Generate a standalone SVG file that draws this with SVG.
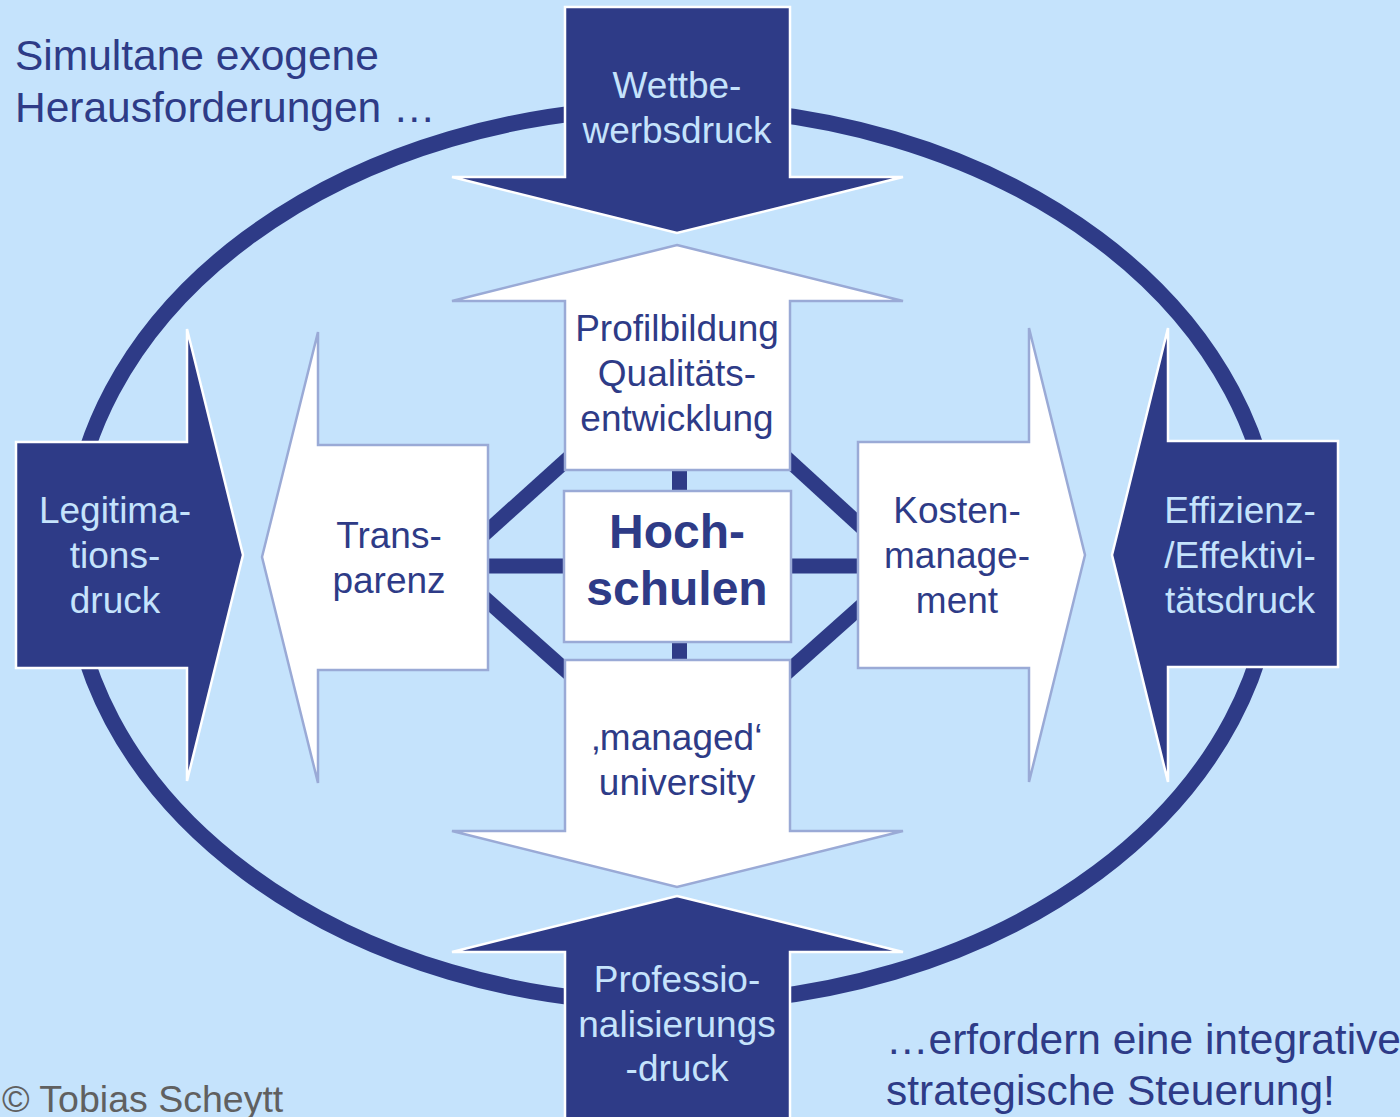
<svg xmlns="http://www.w3.org/2000/svg" width="1400" height="1117" viewBox="0 0 1400 1117">
<style>
.dark{fill:#2e3b87;stroke:#ffffff;stroke-width:2.5;stroke-linejoin:miter}
.white{fill:#ffffff;stroke:#9aaad6;stroke-width:2.5;stroke-linejoin:miter}
.t{font-family:"Liberation Sans",Arial,sans-serif;font-size:37px;text-anchor:middle}
.tl{fill:#c5e3fc}
.td{fill:#2e3b87}
.big{font-family:"Liberation Sans",Arial,sans-serif;font-size:42.5px;fill:#2e3b87}
.conn{stroke:#2e3b87;stroke-width:15;fill:none;stroke-linecap:butt}
</style>
<rect x="0" y="0" width="1400" height="1117" fill="#c5e3fc"/>
<ellipse cx="672" cy="555.5" rx="602" ry="448" fill="none" stroke="#2e3b87" stroke-width="16"/>

<g id="connectors">
<line class="conn" x1="679.5" y1="462" x2="679.5" y2="668"/>
<line class="conn" x1="480" y1="566" x2="866" y2="566"/>
<line class="conn" x1="480" y1="538" x2="572" y2="455"/>
<line class="conn" x1="480" y1="594" x2="572" y2="676"/>
<line class="conn" x1="783" y1="455" x2="866" y2="531"/>
<line class="conn" x1="783" y1="676" x2="866" y2="602"/>
</g>

<g id="wettbewerbsdruck">
<path class="dark" d="M565,7 H790 V177 H903 L677,233 L452,177 H565 Z"/>
<text class="t tl" x="677" y="98">Wettbe-</text>
<text class="t tl" x="677" y="143">werbsdruck</text>
</g>

<g id="professionalisierungsdruck">
<path class="dark" d="M677,896 L903,952 H790 V1130 H565 V952 H452 Z"/>
<text class="t tl" x="677" y="992">Professio-</text>
<text class="t tl" x="677" y="1037">nalisierungs</text>
<text class="t tl" x="677" y="1081">-druck</text>
</g>

<g id="legitimationsdruck">
<path class="dark" d="M16,442 H187 V329 L243,555 L187,781 V668 H16 Z"/>
<text class="t tl" x="115" y="523">Legitima-</text>
<text class="t tl" x="115" y="568">tions-</text>
<text class="t tl" x="115" y="613">druck</text>
</g>

<g id="effizienzdruck">
<path class="dark" d="M1338,441 H1168 V328 L1112,555 L1168,782 V667 H1338 Z"/>
<text class="t tl" x="1240" y="523">Effizienz-</text>
<text class="t tl" x="1240" y="568">/Effektivi-</text>
<text class="t tl" x="1240" y="613">tätsdruck</text>
</g>

<g id="profilbildung">
<path class="white" d="M677,245 L903,301 H790 V470 H565 V301 H452 Z"/>
<text class="t td" x="677" y="341">Profilbildung</text>
<text class="t td" x="677" y="386">Qualitäts-</text>
<text class="t td" x="677" y="431">entwicklung</text>
</g>

<g id="managed">
<path class="white" d="M565,660 H790 V831 H903 L677,887 L452,831 H565 Z"/>
<text class="t td" x="677" y="750">‚managed‘</text>
<text class="t td" x="677" y="795">university</text>
</g>

<g id="transparenz">
<path class="white" d="M262,557 L318,332 V445 H488 V670 H318 V783 Z"/>
<text class="t td" x="389" y="548">Trans-</text>
<text class="t td" x="389" y="593">parenz</text>
</g>

<g id="kostenmanagement">
<path class="white" d="M858,442 H1029 V328 L1085,555 L1029,782 V668 H858 Z"/>
<text class="t td" x="957" y="523">Kosten-</text>
<text class="t td" x="957" y="568">manage-</text>
<text class="t td" x="957" y="613">ment</text>
</g>

<g id="hochschulen">
<rect class="white" x="564" y="491" width="227" height="151"/>
<text class="t td" x="677" y="548" style="font-size:48px;font-weight:bold">Hoch-</text>
<text class="t td" x="677" y="605" style="font-size:48px;font-weight:bold">schulen</text>
</g>

<g id="captions">
<text class="big" x="15" y="70">Simultane exogene</text>
<text class="big" x="15" y="122">Herausforderungen …</text>
<text class="big" x="886" y="1054">…erfordern eine integrative</text>
<text class="big" x="886" y="1105">strategische Steuerung!</text>
<text x="2" y="1112" style="font-family:'Liberation Sans',Arial,sans-serif;font-size:37.5px;fill:#606060">© Tobias Scheytt</text>
</g>
</svg>
